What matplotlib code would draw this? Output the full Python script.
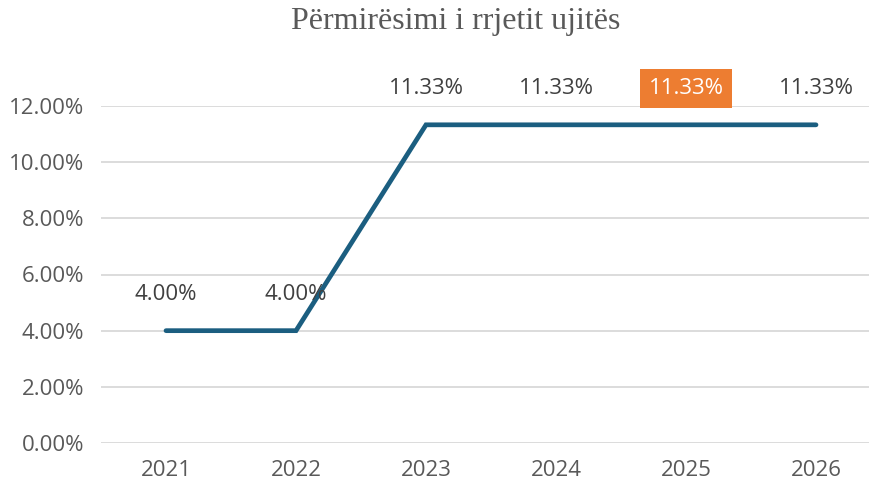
import matplotlib.pyplot as plt
from matplotlib.ticker import FuncFormatter

years = ["2021", "2022", "2023", "2024", "2025", "2026"]
values = [0.04, 0.04, 0.1133, 0.1133, 0.1133, 0.1133]
labels = ["4.00%", "4.00%", "11.33%", "11.33%", "11.33%", "11.33%"]
highlight_idx = 4

LINE_COLOR = "#1b5e80"
GRID_COLOR = "#d9d9d9"
TICK_COLOR = "#595959"
LABEL_COLOR = "#404040"
ORANGE = "#ed7d31"

plt.rcParams["font.family"] = ["Open Sans", "DejaVu Sans"]

fig = plt.figure(figsize=(8.69, 4.86), dpi=100)
ax = fig.add_axes([101 / 869, 43 / 486, 780 / 869, 337 / 486])

x = list(range(len(years)))
ax.plot(x, values, color=LINE_COLOR, linewidth=3.4, solid_capstyle="round",
        solid_joinstyle="miter", zorder=3)

for i, (v, lab) in enumerate(zip(values, labels)):
    if i == highlight_idx:
        ax.annotate(lab, (i, v), xytext=(0, 26), textcoords="offset points",
                    ha="center", va="center", fontsize=16, color="white", zorder=5,
                    bbox=dict(boxstyle="square,pad=0.4", fc=ORANGE, ec="none"))
    else:
        ax.annotate(lab, (i, v), xytext=(0, 26), textcoords="offset points",
                    ha="center", va="center", fontsize=16, color=LABEL_COLOR, zorder=5)

ax.set_xlim(-0.5, len(years) - 0.5)
ax.set_ylim(0, 0.12)
ax.set_yticks([0, 0.02, 0.04, 0.06, 0.08, 0.10, 0.12])
ax.yaxis.set_major_formatter(FuncFormatter(lambda v, p: f"{v * 100:.2f}%"))
ax.set_xticks(x)
ax.set_xticklabels(years)

ax.grid(True, axis="y", color=GRID_COLOR, linewidth=1.3)
ax.set_axisbelow(True)
for s in ax.spines.values():
    s.set_visible(False)
ax.tick_params(axis="both", length=0, labelsize=16, colors=TICK_COLOR)
ax.tick_params(axis="y", pad=12)
ax.tick_params(axis="x", pad=12)

fig.text(0.524, 0.955, "Përmirësimi i rrjetit ujitës", ha="center", va="center",
         fontsize=23, color=TICK_COLOR, family=["Liberation Serif", "DejaVu Serif"])

fig.savefig("out.png", dpi=100)
